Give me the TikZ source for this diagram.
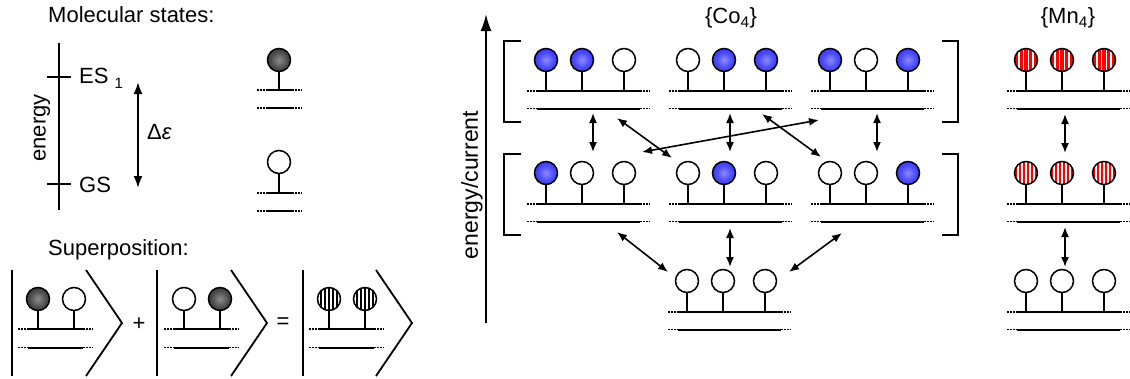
\documentclass[tikz,border=0pt]{standalone}
\usepackage{fontspec}
\setmainfont{Liberation Sans}
\usetikzlibrary{arrows.meta}
\pgfdeclareradialshading{blueshade}{\pgfpoint{0bp}{0bp}}{rgb(0bp)=(0.55,0.55,1); rgb(16bp)=(0.3,0.3,1); rgb(50bp)=(0.02,0.02,0.85)}
\pgfdeclareradialshading{blackshade}{\pgfpoint{0bp}{0bp}}{rgb(0bp)=(0.55,0.55,0.55); rgb(18bp)=(0.3,0.3,0.3); rgb(50bp)=(0.03,0.03,0.03)}
\tikzset{
  ball/.style={circle,draw,line width=1.5pt,minimum size=23pt,inner sep=0pt},
  emptyb/.style={ball,fill=white},
  blueb/.style={ball,shading=blueshade},
  blackb/.style={ball,shading=blackshade},
  redtop/.style={ball,fill=red,path picture={\foreach \d in {-7,-2.5,2.5,7} \draw[white,line width=1.3pt] ([xshift=\d]path picture bounding box.north) -- ([xshift=\d]path picture bounding box.south);}},
  redmid/.style={ball,fill=red,path picture={\foreach \d in {-8,-4,0,4,8} \draw[white,line width=1.9pt] ([xshift=\d]path picture bounding box.north) -- ([xshift=\d]path picture bounding box.south);}},
  bwb/.style={ball,fill=white,path picture={\foreach \d in {-8,-4,0,4,8} \draw[black,line width=2.2pt] ([xshift=\d]path picture bounding box.north) -- ([xshift=\d]path picture bounding box.south);}},
  stem/.style={line width=1.6pt},
  solidlvl/.style={line width=2pt},
  dotlvl/.style={line width=1.8pt,dash pattern=on 1.8pt off 1.2pt},
  axis/.style={line width=2pt},
  dbl/.style={line width=1.6pt,{Latex[length=10pt,width=8pt]}-{Latex[length=10pt,width=8pt]}},
  dblbig/.style={line width=2pt,{Latex[length=12pt,width=9pt]}-{Latex[length=12pt,width=9pt]}},
  bigarrow/.style={line width=2pt,-{Latex[length=17pt,width=11pt]}},
  brack/.style={line width=1.8pt},
  txt/.style={inner sep=0pt}
}
% level line: x0, y, total length
\newcommand{\lvlline}[3]{%
  \draw[dotlvl] (#1,#2) -- (#1+10,#2);
  \draw[solidlvl] (#1+10,#2) -- (#1+#3-10,#2);
  \draw[dotlvl] (#1+#3-10,#2) -- (#1+#3,#2);}
% three-site configuration: name, x0, yball, styles
\newcommand{\confthree}[6]{%
  \node[#4] (#1a) at (#2+19,#3) {};
  \node[#5] (#1b) at (#2+55,#3) {};
  \node[#6] (#1c) at (#2+97,#3) {};
  \draw[stem] (#1a.south) -- (#2+19,#3+31);
  \draw[stem] (#1b.south) -- (#2+55,#3+31);
  \draw[stem] (#1c.south) -- (#2+97,#3+31);
  \lvlline{#2}{#3+31}{123}
  \lvlline{#2}{#3+48.5}{123}}
% two-site ket: name, x0, styles
\newcommand{\kettwo}[4]{%
  \node[#3] (#1a) at (#2+20,299) {};
  \node[#4] (#1b) at (#2+56,299) {};
  \draw[stem] (#1a.south) -- (#2+20,329);
  \draw[stem] (#1b.south) -- (#2+56,329);
  \lvlline{#2}{329}{75}
  \lvlline{#2}{347.5}{75}}
\begin{document}
\begin{tikzpicture}[x=1pt,y=-1pt,font=\fontsize{22}{26}\selectfont]
\useasboundingbox (0,0) rectangle (1130,378);
% ---------- Molecular states ----------
\node[txt,anchor=base west] (ms) at (48,22) {Molecular states:};
\coordinate (ea) at (59,43); \coordinate (eb) at (59,210);
\draw[axis] (ea) -- (eb);
\coordinate (t1a) at (47,77); \coordinate (t1b) at (71,77);
\coordinate (t2a) at (47,184); \coordinate (t2b) at (71,184);
\draw[axis] (t1a) -- (t1b);
\draw[axis] (t2a) -- (t2b);
\node[txt,anchor=base west] (es) at (79,83) {ES \raisebox{-5pt}{\fontsize{15}{15}\selectfont 1}};
\node[txt,anchor=base west] (gs) at (79,192) {GS};
\node[txt,rotate=90] (en) at (42,128) {energy};
\coordinate (dea) at (138,82); \coordinate (deb) at (138,188);
\draw[dblbig] (dea) -- (deb);
\node[txt,anchor=west] (de) at (147,132) {Δ\textit{ε}};
% single states
\node[blackb] (sx) at (279,60) {};
\draw[stem] (sx.south) -- (279,90);
\lvlline{257}{90}{45}
\lvlline{257}{108}{45}
\node[emptyb] (sy) at (279,162) {};
\draw[stem] (sy.south) -- (279,193);
\lvlline{257}{193}{45}
\lvlline{257}{211}{45}
% ---------- Superposition ----------
\node[txt,anchor=base west] (sp) at (48,255) {Superposition:};
\kettwo{ka}{18}{blackb}{emptyb}
\kettwo{kb}{164}{emptyb}{blackb}
\kettwo{kc}{309}{bwb}{bwb}
\foreach \bx/\ax in {12/86,157/231,303/376}{
  \draw[brack] (\bx,270) -- (\bx,376);
  \draw[brack] (\ax,270) -- (\ax+36,323) -- (\ax,376);
}
\node[txt] (plus) at (139,324) {+};
\node[txt] (eq) at (283,323) {=};
% ---------- energy/current axis ----------
\coordinate (axa) at (486,323); \coordinate (axb) at (486,14);
\draw[bigarrow] (axa) -- (axb);
\node[txt,rotate=90,font=\fontsize{23}{27}\selectfont] (ec) at (472,185) {energy/current};
\node[txt] (co) at (731,18) {\{Co\textsubscript{4}\}};
\node[txt] (mn) at (1068,18) {\{Mn\textsubscript{4}\}};
% brackets
\draw[brack] (521,41) -- (504,41) -- (504,122) -- (521,122);
\draw[brack] (521,154) -- (504,154) -- (504,235) -- (521,235);
\draw[brack] (942,41) -- (958,41) -- (958,122) -- (942,122);
\draw[brack] (942,154) -- (958,154) -- (958,235) -- (942,235);
% top row
\confthree{ua}{527}{60}{blueb}{blueb}{emptyb}
\confthree{ub}{669}{60}{emptyb}{blueb}{blueb}
\confthree{uc}{811}{60}{blueb}{emptyb}{blueb}
\confthree{um}{1007}{60}{redtop}{redtop}{redtop}
% middle row
\confthree{ma}{527}{173}{blueb}{emptyb}{emptyb}
\confthree{mb}{669}{173}{emptyb}{blueb}{emptyb}
\confthree{mc}{811}{173}{emptyb}{emptyb}{blueb}
\confthree{mm}{1007}{173}{redmid}{redmid}{redmid}
% bottom row
\confthree{ga}{668}{281}{emptyb}{emptyb}{emptyb}
\confthree{gm}{1007}{281}{emptyb}{emptyb}{emptyb}
% arrows top-middle
\coordinate (v1a) at (593,113); \coordinate (v1b) at (593,152);
\coordinate (v2a) at (730,113); \coordinate (v2b) at (730,152);
\coordinate (v3a) at (877,113); \coordinate (v3b) at (877,152);
\coordinate (v4a) at (1065,114); \coordinate (v4b) at (1065,153);
\draw[dbl] (v1a) -- (v1b);
\draw[dbl] (v2a) -- (v2b);
\draw[dbl] (v3a) -- (v3b);
\draw[dbl] (v4a) -- (v4b);
\coordinate (d1a) at (617,118); \coordinate (d1b) at (672,158);
\coordinate (d2a) at (642,152); \coordinate (d2b) at (819,120);
\coordinate (d3a) at (762,114); \coordinate (d3b) at (821,157);
\draw[dbl] (d1a) -- (d1b);
\draw[dbl] (d2a) -- (d2b);
\draw[dbl] (d3a) -- (d3b);
% arrows middle-bottom
\coordinate (b1a) at (617,232); \coordinate (b1b) at (668,272);
\coordinate (b2a) at (730,228); \coordinate (b2b) at (730,267);
\coordinate (b3a) at (842,233); \coordinate (b3b) at (789,272);
\coordinate (b4a) at (1065,227); \coordinate (b4b) at (1065,267);
\draw[dbl] (b1a) -- (b1b);
\draw[dbl] (b2a) -- (b2b);
\draw[dbl] (b3a) -- (b3b);
\draw[dbl] (b4a) -- (b4b);
\end{tikzpicture}
\end{document}
